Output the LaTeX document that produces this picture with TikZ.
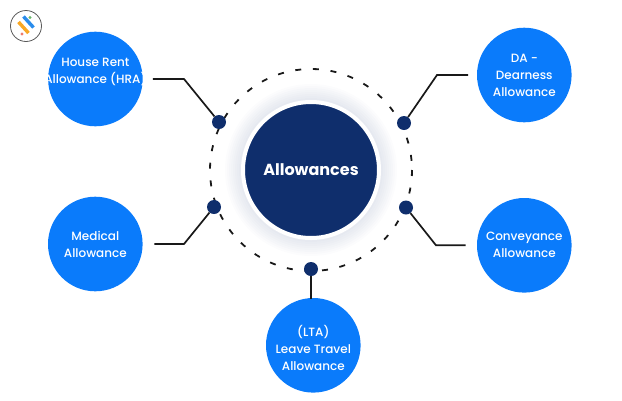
\documentclass[tikz,border=0pt]{standalone}
\usepackage{fontspec}
\setmainfont{Poppins}
\newfontfamily\medfont{Poppins Medium}
\usepackage{tikz}
\definecolor{navy}{HTML}{0F2E6C}
\definecolor{brightblue}{HTML}{0A7BFB}
\definecolor{glow}{HTML}{5A6E9C}
\definecolor{logoblue}{HTML}{2A8CEB}
\definecolor{logoorange}{HTML}{F9A825}
\definecolor{logogreen}{HTML}{66B86A}
\definecolor{logored}{HTML}{EF7B6C}
\begin{document}
\begin{tikzpicture}[x=1pt,y=-1pt,
		item/.style={circle,fill=brightblue,text=white,minimum size=94.6pt,inner sep=0pt,align=center,font=\fontsize{12}{17}\medfont},
		hub/.style={circle,fill=navy,draw=white,line width=4pt,minimum size=136pt,inner sep=0pt,text=white,font=\fontsize{16}{20}\selectfont\bfseries},
		dot/.style={circle,fill=navy,minimum size=14pt,inner sep=0pt},
		link/.style={draw=black!90,line width=1.7pt,line join=miter},
		ring/.style={draw=black!90,line width=1.8pt,dash pattern=on 6pt off 11.7pt}]
		\useasboundingbox (0,0) rectangle (622,400);
		
		% soft shadow round the hub
		\foreach \r in {70,72,...,86} {
			\fill[glow,opacity=0.018] (311,170) circle[radius=\r];
		}
		\draw[ring] (311,170) circle[radius=101];
		
		\node[hub] (hub) at (311,170) {Allowances};
		
		\node[item] (hra) at (95.4,79) {House Rent\\\makebox[0pt]{Allowance (HRA)}\\\mbox{}};
		\node[item] (da) at (524.3,75) {DA -\\Dearness\\Allowance};
		\node[item] (med) at (95.3,244) {Medical\\Allowance};
		\node[item] (conv) at (524.3,245.3) {Conveyance\\Allowance};
		\node[item] (lta) at (313.3,345.3) {\rule{0pt}{16pt}(LTA)\\Leave Travel\\Allowance};
		
		\node[dot] (d1) at (219,122) {};
		\node[dot] (d2) at (404,123) {};
		\node[dot] (d3) at (214,207) {};
		\node[dot] (d4) at (406,207.5) {};
		\node[dot] (d5) at (311,269) {};
		
		\coordinate (k1) at (184,79);
		\coordinate (k2) at (437,75);
		\coordinate (k3) at (184,244);
		\coordinate (k4) at (436,245.3);
		\coordinate (k5) at (311,298.5);
		
		\draw[link,shorten <=10pt] (hra.east) -- (k1) -- (d1);
		\draw[link,shorten <=8.7pt] (da.west) -- (k2) -- (d2);
		\draw[link,shorten <=11.5pt] (med.east) -- (k3) -- (d3);
		\draw[link,shorten <=11.3pt] (conv.west) -- (k4) -- (d4);
		\draw[link] (d5) -- (k5);
		
		% logo
		\node[circle,draw=black!65,line width=0.8pt,minimum size=31pt,inner sep=0pt] (logo) at (26,26) {};
		\draw[line width=3.4pt,logoblue] (23.5,16.5) -- (33.5,27.5);
		\draw[line width=3.4pt,logoorange] (18.5,22) -- (28.5,33);
		\fill[logogreen] (30,17.5) circle[radius=1.6];
		\fill[logored] (22,34) circle[radius=1.6];
	\end{tikzpicture}
\end{document}
